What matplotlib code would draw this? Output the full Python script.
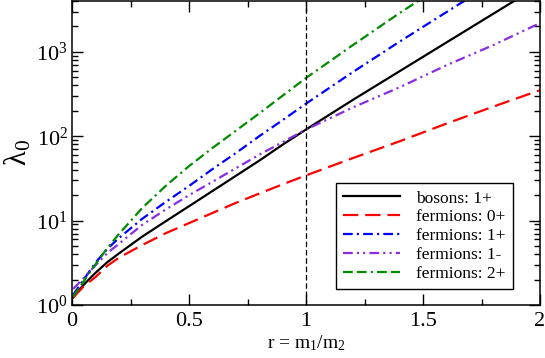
import matplotlib
matplotlib.use("Agg")
from matplotlib import pyplot as plt
from matplotlib.ticker import LogLocator, MultipleLocator, NullFormatter

plt.rcParams['font.family'] = ['Liberation Serif', 'DejaVu Serif']
plt.rcParams['mathtext.fontset'] = 'custom'
plt.rcParams['mathtext.rm'] = 'Liberation Serif'
plt.rcParams['mathtext.it'] = 'Liberation Serif:italic'
plt.rcParams['lines.scale_dashes'] = False

# r = m1/m2 grid
r = [0.005, 0.05, 0.1, 0.15, 0.2, 0.3, 0.4, 0.5, 0.6, 0.7, 0.8, 0.9, 1.0,
     1.2, 1.4, 1.6, 1.8, 2.0]

bosons_1p = [1.23, 1.74, 2.4, 3.2, 4.07, 6.46, 9.8, 14.8, 22.4, 33.9, 51.3, 79.4, 120,
             269, 589, 1290, 2820, 6170]
fermions_0p = [1.23, 1.66, 2.14, 2.9, 3.63, 5.13, 7.08, 9.33, 12.3, 16.2, 20.9, 26.9, 34.3,
               55, 87, 141, 224, 351]
fermions_1p = [1.32, 2.0, 3.16, 4.6, 6.2, 10.5, 16.6, 25.7, 40.7, 63.1, 100, 155, 243,
               575, 1320, 2950, 6600, 14800]
fermions_1m = [1.55, 2.09, 2.95, 4.1, 5.3, 8.91, 13.5, 20.0, 28.8, 41.7, 60.3, 85.1, 120,
               219, 380, 692, 1200, 2190]
fermions_2p = [1.26, 1.91, 3.02, 4.7, 6.9, 14.1, 25.7, 44.2, 72.4, 116, 186, 302, 490,
               1200, 2880, 6610, 15000, 34000]

fig = plt.figure(figsize=(5.45, 3.58), dpi=100)
ax = fig.add_axes([72/545, 53/358, 468/545, 304/358])

lw = 1.6
ax.plot(r, bosons_1p, color='black', lw=lw, label='bosons: 1+')
ax.plot(r, fermions_0p, color='#ff0000', lw=lw, ls=(0, (11, 5)), label='fermions: 0+')
ax.plot(r, fermions_1p, color='#0000ff', lw=lw, ls=(0, (7, 3, 1.5, 3)), label='fermions: 1+')
ax.plot(r, fermions_1m, color='#8a2be2', lw=lw, ls=(0, (7, 3, 1.5, 3, 1.5, 3)), label='fermions: 1-')
ax.plot(r, fermions_2p, color='#008b00', lw=lw, ls=(0, (7, 3, 7, 3, 1.5, 3)), label='fermions: 2+')

ax.axvline(1.0, color='black', lw=0.9, ls=(0, (4, 2)))

ax.set_yscale('log')
ax.set_xlim(0, 2)
ax.set_ylim(1, 4000)

ax.xaxis.set_major_locator(MultipleLocator(0.5))
ax.xaxis.set_minor_locator(MultipleLocator(0.25))
ax.xaxis.set_major_formatter(matplotlib.ticker.FuncFormatter(lambda v, p: f"{v:g}"))
ax.yaxis.set_major_locator(LogLocator(base=10, numticks=10))
ax.yaxis.set_minor_locator(LogLocator(base=10, subs=range(2, 10), numticks=20))
ax.yaxis.set_minor_formatter(NullFormatter())

ax.tick_params(which='both', direction='in', top=True, right=True, width=1)
ax.tick_params(which='major', length=8, labelsize=16)
ax.tick_params(which='minor', length=4.5)
ax.tick_params(axis='x', pad=5)
ax.tick_params(axis='y', pad=3)
for s in ax.spines.values():
    s.set_linewidth(1.1)

ax.set_xlabel(r'r = m$_1$/m$_2$', fontsize=14, labelpad=2)
ax.set_ylabel(r'$\mathrm{\lambda}_0$', fontsize=22, labelpad=2)

leg = ax.legend(loc='lower right', bbox_to_anchor=(0.942, 0.053), borderaxespad=0,
                fontsize=12.5, handlelength=3.3, handletextpad=0.9,
                labelspacing=0.15, borderpad=0.42, fancybox=False, framealpha=1,
                edgecolor='black')
leg.get_frame().set_linewidth(1.0)

plt.savefig('out.png', dpi=100)
